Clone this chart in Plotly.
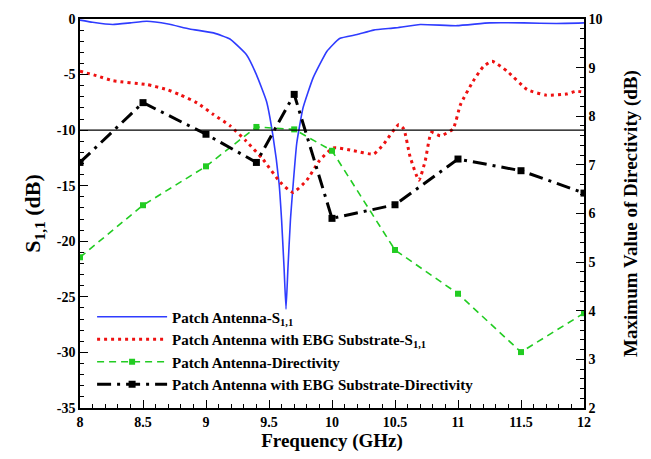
import plotly.graph_objects as go

# ---- data ----
freq_patch = [8.0, 8.1, 8.26, 8.4, 8.53, 8.7, 8.87, 9.06, 9.19, 9.32, 9.40, 9.48, 9.53,
              9.58, 9.60, 9.62, 9.635, 9.65, 9.67, 9.72, 9.77, 9.85, 9.96, 10.06, 10.2,
              10.33, 10.5, 10.7, 10.99, 11.25, 11.52, 11.78, 12.0]
s11_patch = [-0.1, -0.3, -0.5, -0.35, -0.2, -0.45, -0.9, -1.25, -1.8, -3.2, -5.0, -7.4, -10.4,
             -14.8, -18.1, -22.5, -26.1, -22.5, -18.1, -11.2, -8.0, -5.3, -2.9, -1.75, -1.4,
             -1.0, -0.8, -0.5, -0.6, -0.35, -0.35, -0.4, -0.35]

freq_ebg = [8.0, 8.13, 8.26, 8.53, 8.69, 8.79, 8.93, 9.06, 9.19, 9.32, 9.45, 9.59, 9.69,
            9.80, 9.90, 10.01, 10.17, 10.33, 10.41, 10.53, 10.57, 10.62, 10.69, 10.74, 10.79,
            10.86, 10.96, 11.02, 11.12, 11.20, 11.27, 11.39, 11.55, 11.70, 11.86, 11.94, 12.0]
s11_ebg = [-4.7, -5.1, -5.55, -5.9, -6.35, -6.8, -7.55, -8.6, -9.6, -11.0, -12.6, -14.7, -15.6,
           -14.5, -12.75, -11.6, -11.85, -12.15, -11.25, -9.5, -9.9, -12.4, -14.5, -12.75, -10.2,
           -10.5, -9.9, -7.7, -5.6, -4.3, -3.8, -4.7, -6.35, -6.85, -6.75, -6.5, -6.6]

freq_dir = [8.0, 8.5, 9.0, 9.4, 9.7, 10.0, 10.5, 11.0, 11.5, 12.0]
dir_patch = [5.1, 6.17, 6.97, 7.78, 7.73, 7.29, 5.25, 4.35, 3.15, 3.95]
dir_ebg = [7.05, 8.28, 7.63, 7.05, 8.45, 5.9, 6.18, 7.12, 6.88, 6.42]

threshold = -10

left_tickvals = [-35, -30, -25, -20, -15, -10, -5, 0]
left_ticktext = ["-35", "-30", "-25", "-20", "-15", "-10", "-5", "0"]
right_tickvals = [2, 3, 4, 5, 6, 7, 8, 9, 10]
x_tickvals = [8, 8.5, 9, 9.5, 10, 10.5, 11, 11.5, 12]
x_ticktext = ["8", "8.5", "9", "9.5", "10", "10.5", "11", "11.5", "12"]

names = ["Patch Antenna-S<sub>1,1</sub>",
         "Patch Antenna with EBG Substrate-S<sub>1,1</sub>",
         "Patch Antenna-Directivity",
         "Patch Antenna with EBG Substrate-Directivity"]

SERIF = "Liberation Serif"

fig = go.Figure()
fig.add_trace(go.Scatter(x=freq_patch, y=s11_patch, name=names[0], mode="lines",
                         line=dict(color="#2f3cff", width=1.6, shape="spline", smoothing=0.4)))
fig.add_trace(go.Scatter(x=freq_ebg, y=s11_ebg, name=names[1], mode="lines",
                         line=dict(color="#ee1111", width=3, dash="3px,4px",
                                   shape="spline", smoothing=0.5)))
fig.add_trace(go.Scatter(x=freq_dir, y=dir_patch, name=names[2], mode="lines+markers",
                         yaxis="y2",
                         line=dict(color="#22cc22", width=1.6, dash="7px,5px"),
                         marker=dict(symbol="square", size=6, color="#22cc22")))
fig.add_trace(go.Scatter(x=freq_dir, y=dir_ebg, name=names[3], mode="lines+markers",
                         yaxis="y2",
                         line=dict(color="black", width=3, dash="14px,6px,3px,6px"),
                         marker=dict(symbol="square", size=7, color="black")))

fig.add_hline(y=threshold, line=dict(color="black", width=1.2))

tickfont = dict(family=SERIF, size=14, color="black", weight="bold")

fig.update_layout(
    width=651, height=459,
    margin=dict(l=80, r=67, t=17, b=49),
    paper_bgcolor="white", plot_bgcolor="white",
    showlegend=True,
    legend=dict(x=0.024, y=0.148, xanchor="left", yanchor="middle",
                bgcolor="rgba(0,0,0,0)", tracegroupgap=0, itemwidth=70,
                font=dict(family=SERIF, size=15, color="black", weight="bold")),
    xaxis=dict(range=[8, 12], tickvals=x_tickvals, ticktext=x_ticktext,
               ticks="inside", ticklen=8, tickwidth=1.2, tickcolor="black",
               minor=dict(dtick=0.1, ticks="inside", ticklen=4, tickcolor="black"),
               showline=True, linecolor="black", linewidth=1.5, mirror=True,
               showgrid=False, zeroline=False, tickfont=tickfont,
               title=dict(text="Frequency (GHz)", standoff=4,
                          font=dict(family=SERIF, size=19, color="black", weight="bold"))),
    yaxis=dict(range=[-35, 0], tickvals=left_tickvals, ticktext=left_ticktext,
               ticks="inside", ticklen=8, tickwidth=1.2, tickcolor="black",
               minor=dict(dtick=1, ticks="inside", ticklen=4, tickcolor="black"),
               showline=True, linecolor="black", linewidth=1.5,
               showgrid=False, zeroline=False, tickfont=tickfont,
               title=dict(text="S<sub>1,1</sub> (dB)", standoff=10,
                          font=dict(family=SERIF, size=22, color="black", weight="bold"))),
    yaxis2=dict(range=[2, 10], tickvals=right_tickvals, overlaying="y", side="right",
                ticks="inside", ticklen=8, tickwidth=1.2, tickcolor="black",
                minor=dict(dtick=0.2, ticks="inside", ticklen=4, tickcolor="black"),
                showline=True, linecolor="black", linewidth=1.5,
                showgrid=False, zeroline=False, tickfont=tickfont,
                title=dict(text="Maximum Value of Directivity (dB)", standoff=22,
                           font=dict(family=SERIF, size=19, color="black", weight="bold"))),
)

fig.write_html("out.html", config={"displayModeBar": False},
               post_script="document.body.style.margin='0px';")
